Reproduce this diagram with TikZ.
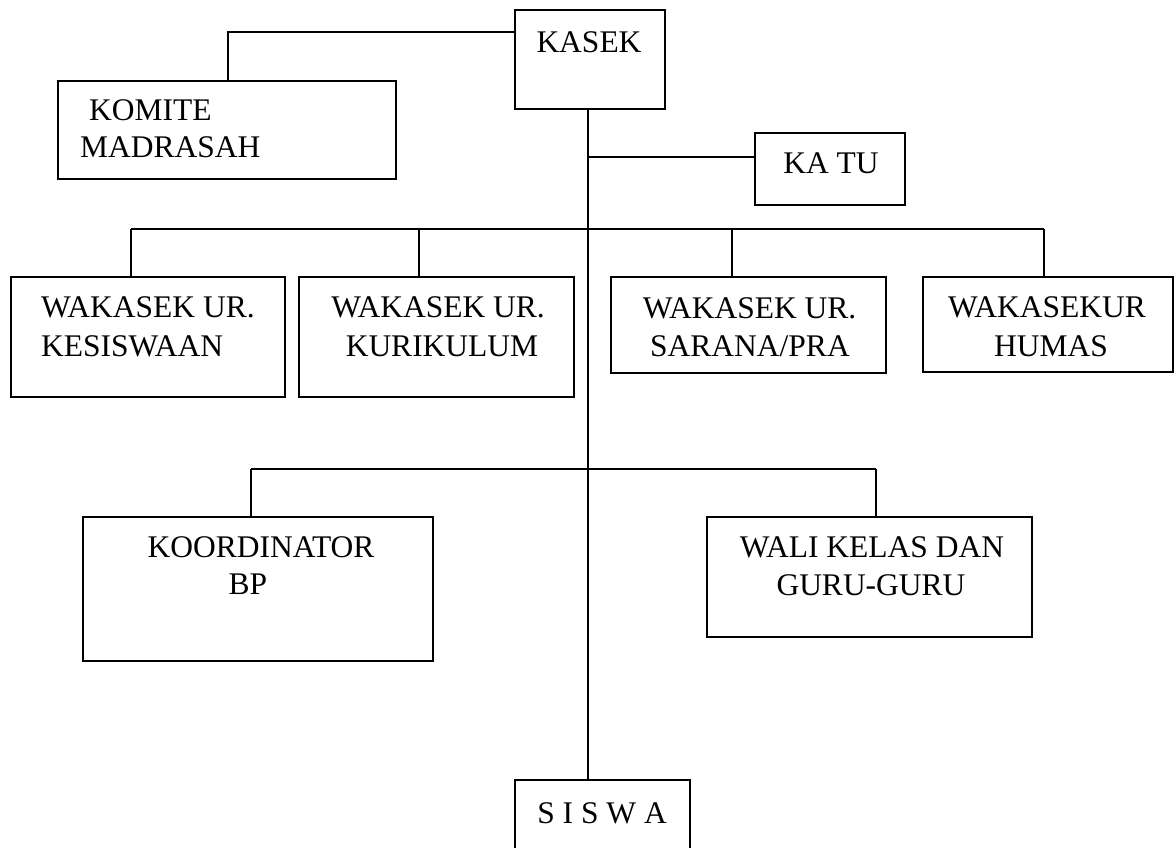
\documentclass[tikz,border=0pt]{standalone}
\usepackage{fontspec}
\setmainfont{Liberation Serif}
\begin{document}
\begin{tikzpicture}[x=1pt,y=-1pt,
  box/.style={draw=black,line width=1.6pt,rectangle,inner sep=0pt,fill=none},
  lbl/.style={inner sep=0pt,font=\fontsize{31.5}{38}\selectfont},
  conn/.style={draw=black,line width=1.6pt}]
\clip (0,0) rectangle (1176,848);
% boxes
\node[box,minimum width=150pt,minimum height=99pt] (kasek) at (590,59.5) {};
\node[box,minimum width=338pt,minimum height=98pt] (komite) at (227,130) {};
\node[box,minimum width=150pt,minimum height=72pt] (katu) at (830,169) {};
\node[box,minimum width=274pt,minimum height=120pt] (wk1) at (148,337) {};
\node[box,minimum width=275pt,minimum height=120pt] (wk2) at (436.5,337) {};
\node[box,minimum width=275pt,minimum height=96pt] (wk3) at (748.5,325) {};
\node[box,minimum width=250pt,minimum height=95pt] (wk4) at (1048,324.5) {};
\node[box,minimum width=350pt,minimum height=144pt] (koord) at (258,589) {};
\node[box,minimum width=325pt,minimum height=120pt] (wali) at (869.5,577) {};
\node[box,minimum width=175pt,minimum height=100pt] (siswa) at (602.5,830) {};
% texts
\node[lbl,anchor=base] (tkasek) at (589,53) {KASEK};
\node[lbl,anchor=base west] (tkom1) at (89,121) {KOMITE};
\node[lbl,anchor=base west] (tkom2) at (80,158) {MADRASAH};
\node[lbl,anchor=base] (tkatu) at (831,174) {KA TU};
\node[lbl,anchor=base west] (tw11) at (41,317) {WAKASEK UR.};
\node[lbl,anchor=base west] (tw12) at (41,356) {KESISWAAN};
\node[lbl,anchor=base] (tw21) at (438,317) {WAKASEK UR.};
\node[lbl,anchor=base] (tw22) at (442,356) {KURIKULUM};
\node[lbl,anchor=base] (tw31) at (749.5,318) {WAKASEK UR.};
\node[lbl,anchor=base] (tw32) at (750,356) {SARANA/PRA};
\node[lbl,anchor=base] (tw41) at (1047,317) {WAKASEKUR};
\node[lbl,anchor=base] (tw42) at (1051,356) {HUMAS};
\node[lbl,anchor=base] (tko1) at (261,557) {KOORDINATOR};
\node[lbl,anchor=base] (tko2) at (248,594) {BP};
\node[lbl,anchor=base] (twa1) at (872,557) {WALI KELAS DAN};
\node[lbl,anchor=base] (twa2) at (871,595) {GURU-GURU};
\node[lbl,anchor=base] (tsis) at (602,823) {S I S W A};
% connector coordinates
\coordinate (kk) at (228,32);
\coordinate (tr) at (588,0);
\coordinate (jk) at (588,157);
\coordinate (d1) at (131,229);
\coordinate (d2) at (419,229);
\coordinate (d3) at (732,229);
\coordinate (d4) at (1044,229);
\coordinate (e1) at (251,469);
\coordinate (e2) at (876,469);
% connectors
\draw[conn] (kasek.west |- kk) -- (kk) -- (kk |- komite.north);
\draw[conn] (tr |- kasek.south) -- (tr |- siswa.north);
\draw[conn] (jk) -- (jk -| katu.west);
\draw[conn] (d1) -- (d4);
\draw[conn] (d1) -- (d1 |- wk1.north);
\draw[conn] (d2) -- (d2 |- wk2.north);
\draw[conn] (d3) -- (d3 |- wk3.north);
\draw[conn] (d4) -- (d4 |- wk4.north);
\draw[conn] (e1) -- (e2);
\draw[conn] (e1) -- (e1 |- koord.north);
\draw[conn] (e2) -- (e2 |- wali.north);
\end{tikzpicture}
\end{document}
